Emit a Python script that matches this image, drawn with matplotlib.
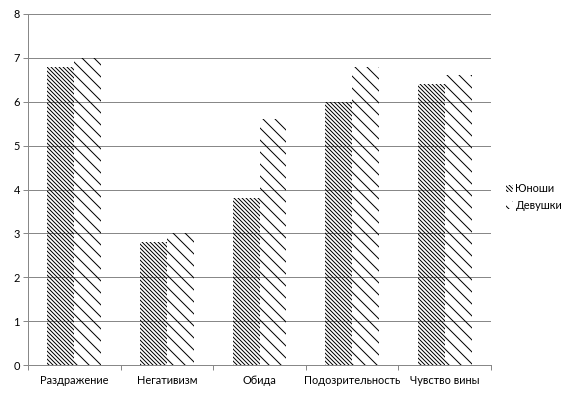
import matplotlib
matplotlib.use("Agg")
import matplotlib.pyplot as plt
import numpy as np

categories = ["Раздражение", "Негативизм", "Обида", "Подозрительность", "Чувство вины"]
series_names = ["Юноши", "Девушки"]
yunoshi = [6.8, 2.8, 3.8, 6.0, 6.4]
devushki = [7.0, 3.0, 5.6, 6.8, 6.6]
y_ticks = [0, 1, 2, 3, 4, 5, 6, 7, 8]

plt.rcParams['font.family'] = ['Lato', 'DejaVu Sans']
plt.rcParams['hatch.linewidth'] = 1.0
plt.rcParams['hatch.color'] = 'black'

W, H, DPI = 579, 396, 72
fig = plt.figure(figsize=(W / DPI, H / DPI), dpi=DPI)
ax = fig.add_axes([28 / W, 1 - 365 / H, (491 - 28) / W, (365 - 14) / H])

x = np.arange(len(categories))
bw = 0.29
b1 = ax.bar(x - bw / 2, yunoshi, bw, facecolor='none', edgecolor='black',
            linewidth=0, hatch='\\' * 6, label=series_names[0])
b2 = ax.bar(x + bw / 2, devushki, bw, facecolor='none', edgecolor='black',
            linewidth=0, hatch='\\' * 2, label=series_names[1])

ax.set_xlim(-0.5, len(categories) - 0.5)
ax.set_ylim(0, 8)
ax.set_yticks(y_ticks)
ax.set_yticklabels([str(v) for v in y_ticks], fontsize=11)
ax.yaxis.grid(True, color='#888888', linewidth=1)
ax.set_axisbelow(True)

ax.set_xticks(x)
ax.set_xticklabels(categories, fontsize=11)
ax.set_xticks(np.arange(len(categories) + 1) - 0.5, minor=True)
ax.tick_params(axis='x', which='major', length=0, pad=10)
ax.tick_params(axis='x', which='minor', length=5, color='#888888', width=1)
ax.tick_params(axis='y', length=5, color='#888888', width=1, pad=3)

for s in ['top', 'right']:
    ax.spines[s].set_visible(False)
for s in ['left', 'bottom']:
    ax.spines[s].set_color('#888888')
    ax.spines[s].set_linewidth(1)

ax.legend(handles=[b1, b2], labels=series_names, frameon=False, fontsize=11,
          loc='center left', bbox_to_anchor=(500 / W, 1 - 197 / H),
          bbox_transform=fig.transFigure, handlelength=0.7, handleheight=0.7,
          handletextpad=0.2, labelspacing=0.5, borderpad=0)

fig.savefig("out.png", dpi=DPI)
